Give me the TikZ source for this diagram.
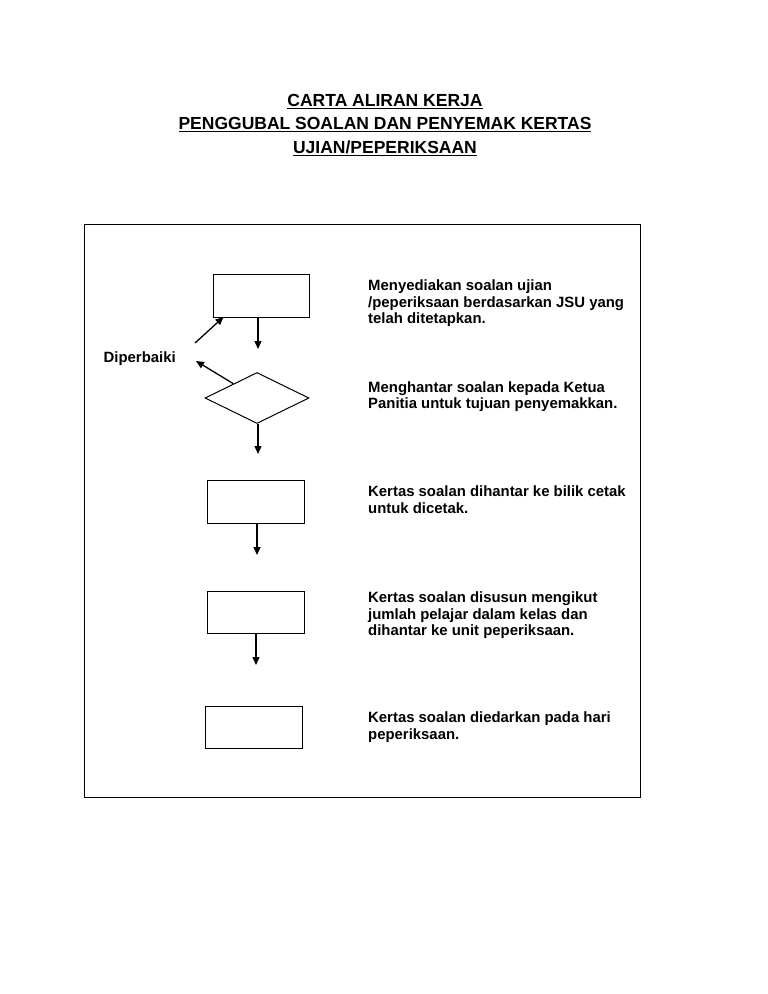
\documentclass[tikz,border=0pt]{standalone}
\usepackage{fontspec}
\setmainfont{Liberation Sans}
\usetikzlibrary{arrows.meta,shapes.geometric,calc}
\begin{document}
\begin{tikzpicture}[x=1pt,y=-1pt,
  box/.style={draw,line width=1pt,minimum width=96pt,minimum height=43pt,inner sep=0pt},
  flow/.style={line width=1.3pt,-{Triangle[length=8pt,width=7pt]}},
  desc/.style={anchor=base west,inner sep=0pt,align=left,font=\fontsize{14.9}{16.5}\selectfont\bfseries},
  ttl/.style={anchor=base,inner sep=0pt,font=\fontsize{17.5}{20}\selectfont\bfseries}]
\useasboundingbox (0,0) rectangle (768,994);
% title
\node[ttl] (t1) at (385,106.5) {\underline{CARTA ALIRAN KERJA}};
\node[ttl] (t2) at (385,129.5) {\underline{PENGGUBAL SOALAN DAN PENYEMAK KERTAS}};
\node[ttl] (t3) at (385,153) {\underline{UJIAN/PEPERIKSAAN}};
% frame
\node[draw,line width=1pt,minimum width=556pt,minimum height=573pt,inner sep=0pt,anchor=north west] (frame) at (84,224) {};
% shapes
\node[box] (b1) at (261.3,295.5) {};
\node[draw,line width=1pt,diamond,minimum width=104pt,minimum height=51pt,inner sep=0pt] (d) at (257,398) {};
\node[box,minimum width=97pt] (b3) at (255.5,501.5) {};
\node[box,minimum width=97pt,minimum height=42pt] (b4) at (255.5,612) {};
\node[box,minimum width=97pt,minimum height=42pt] (b5) at (253.5,727) {};
% coordinates for arrow ends
\coordinate (a1s) at (258,317);
\coordinate (a1e) at (258,349);
\coordinate (a2e) at (258,454);
\coordinate (a3s) at (257,523);
\coordinate (a3e) at (257,555);
\coordinate (a4s) at (256,633);
\coordinate (a4e) at (256,665);
\coordinate (r1s) at (195,343);
\coordinate (r1e) at (223.5,317);
\coordinate (r2s) at ($(d.west)!0.55!(d.north)$);
\coordinate (r2e) at (196,361);
\draw[flow] (a1s) -- (a1e);
\draw[flow] (d.south -| a2e) -- (a2e);
\draw[flow] (a3s) -- (a3e);
\draw[flow] (a4s) -- (a4e);
\draw[flow] (r1s) -- (r1e);
\draw[flow] (r2s) -- (r2e);
% labels (anchor at baseline of last line)
\node[desc] (dp) at (103.5,362) {Diperbaiki};
\node[desc] (p1) at (368,323.5) {Menyediakan soalan ujian\\/peperiksaan berdasarkan JSU yang\\telah ditetapkan.};
\node[desc] (p2) at (368,408.5) {Menghantar soalan kepada Ketua\\Panitia untuk tujuan penyemakkan.};
\node[desc] (p3) at (368,513) {Kertas soalan dihantar ke bilik cetak\\untuk dicetak.};
\node[desc] (p4) at (368,635.5) {Kertas soalan disusun mengikut\\jumlah pelajar dalam kelas dan\\dihantar ke unit peperiksaan.};
\node[desc] (p5) at (368,739) {Kertas soalan diedarkan pada hari\\peperiksaan.};
\end{tikzpicture}
\end{document}
